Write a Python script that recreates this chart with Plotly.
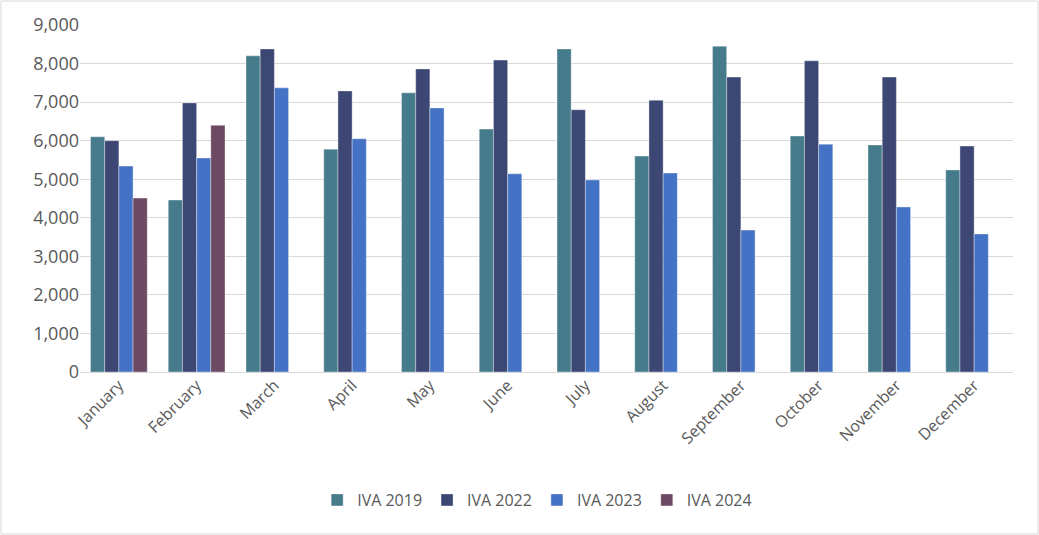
import plotly.graph_objects as go

months = ["January", "February", "March", "April", "May", "June", "July",
          "August", "September", "October", "November", "December"]
iva_2019 = [6100, 4460, 8200, 5780, 7240, 6300, 8380, 5600, 8450, 6120, 5890, 5240]
iva_2022 = [6000, 6980, 8380, 7290, 7860, 8090, 6800, 7050, 7650, 8070, 7650, 5860]
iva_2023 = [5340, 5550, 7370, 6050, 6850, 5140, 4980, 5160, 3680, 5910, 4280, 3580]
iva_2024 = [4510, 6400, None, None, None, None, None, None, None, None, None, None]

series = [
    ("IVA 2019", iva_2019, "#467B8B"),
    ("IVA 2022", iva_2022, "#3D4774"),
    ("IVA 2023", iva_2023, "#4472C4"),
    ("IVA 2024", iva_2024, "#6C4A63"),
]

fig = go.Figure()
for name, vals, col in series:
    fig.add_trace(go.Bar(x=months, y=vals, name=name, marker_color=col,
                         marker_line=dict(color="rgba(255,255,255,0.6)", width=0.6)))

W, H = 1039, 535
ml, mr, mt, mb = 80, 26, 25, 163
pw, ph = W - ml - mr, H - mt - mb

fig.update_layout(
    width=W, height=H,
    margin=dict(l=ml, r=mr, t=mt, b=mb),
    barmode="group", bargap=0.27, bargroupgap=0,
    plot_bgcolor="white", paper_bgcolor="white",
    font=dict(family="Open Sans, Liberation Sans, sans-serif", color="#595959", size=16),
    legend=dict(orientation="h", x=0.49, xanchor="center", y=(372 - 500) / ph, yanchor="middle",
                font=dict(size=16, color="#595959"), itemwidth=30, traceorder="normal"),
    xaxis=dict(tickangle=-45, tickfont=dict(size=16, color="#595959"), showline=False,
               ticks=""),
    yaxis=dict(range=[0, 9000], dtick=1000, tickformat=",", gridcolor="#D9D9D9",
               gridwidth=1, zeroline=True, zerolinecolor="#D9D9D9", zerolinewidth=1,
               tickfont=dict(size=18, color="#595959"), ticks="", ticklen=0),
    shapes=[dict(type="rect", xref="paper", yref="paper",
                 x0=(-ml + 1) / pw, x1=1 + (mr - 1) / pw,
                 y0=(-mb + 1) / ph, y1=1 + (mt - 1) / ph,
                 line=dict(color="#D9D9D9", width=1), layer="below")],
)

fig.write_html("out.html", config={"displayModeBar": False},
               post_script="document.body.style.margin='0';document.body.style.padding='0';")
